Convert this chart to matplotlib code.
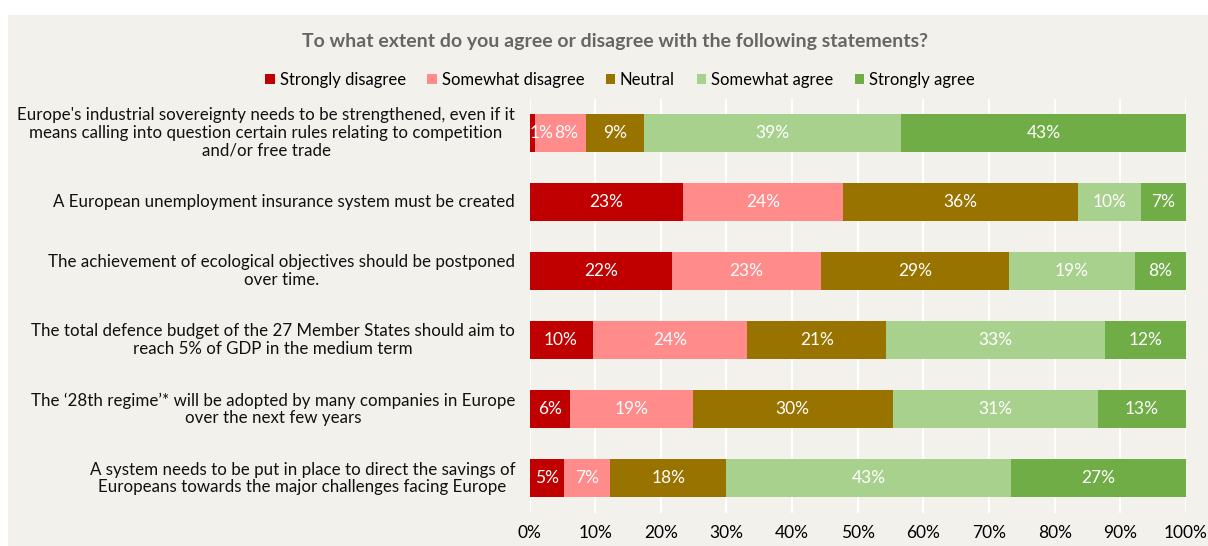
import matplotlib
matplotlib.use("Agg")
import matplotlib.pyplot as plt
import matplotlib.transforms as mtransforms
import numpy as np

plt.rcParams['font.family'] = ['Lato', 'DejaVu Sans']

statements = [
    "Europe's industrial sovereignty needs to be strengthened, even if it\nmeans calling into question certain rules relating to competition\nand/or free trade",
    "A European unemployment insurance system must be created",
    "The achievement of ecological objectives should be postponed\nover time.",
    "The total defence budget of the 27 Member States should aim to\nreach 5% of GDP in the medium term",
    "The \u201828th regime\u2019* will be adopted by many companies in Europe\nover the next few years",
    "A system needs to be put in place to direct the savings of\nEuropeans towards the major challenges facing Europe",
]

answers = ["Strongly disagree", "Somewhat disagree", "Neutral", "Somewhat agree", "Strongly agree"]

strongly_disagree = [0.9, 23.4, 21.7, 9.6, 6.2, 5.3]
somewhat_disagree = [7.7, 24.3, 22.7, 23.6, 18.7, 7.0]
neutral = [8.8, 35.8, 28.6, 21.1, 30.4, 17.7]
somewhat_agree = [39.2, 9.6, 19.2, 33.4, 31.3, 43.4]
strongly_agree = [43.4, 6.9, 7.8, 12.3, 13.4, 26.6]

colours = ["#C00000", "#FF8B8B", "#997300", "#A9D18E", "#70AD47"]
bg = "#F2F1EC"

series = [strongly_disagree, somewhat_disagree, neutral, somewhat_agree, strongly_agree]

W, H = 1208, 546
fig = plt.figure(figsize=(W / 100, H / 100), dpi=100)
fig.patch.set_facecolor("white")
# beige panel behind the chart
fig.patches.append(plt.Rectangle((8 / W, 0), 1, 1 - 15 / H, transform=fig.transFigure,
                                 facecolor=bg, edgecolor="none", zorder=-1))

ax = fig.add_axes([529.5 / W, 33 / H, (1186 - 529.5) / W, (513 - 98.5) / H])
ax.set_facecolor(bg)

y = np.arange(len(statements))
left = np.zeros(len(statements))
last_x = np.full(len(statements), -10.0)  # centre of previous label in each row
for name, vals, c in zip(answers, series, colours):
    vals = np.array(vals)
    ax.barh(y, vals, left=left, height=0.55, color=c, label=name, zorder=3)
    for i, (yi, l, v) in enumerate(zip(y, left, vals)):
        xc = l + v / 2
        if xc < 1.5:
            # tiny segment at the axis: keep the label inside the plot
            ax.text(0, yi, f"{v:.0f}%", ha="left", va="center",
                    color="white", fontsize=12.5, zorder=4)
            last_x[i] = 1.4
            continue
        xc = max(xc, last_x[i] + 4.2)  # push away from a crowded neighbour
        ax.text(xc, yi, f"{v:.0f}%", ha="center", va="center",
                color="white", fontsize=12.5, zorder=4)
        last_x[i] = xc
    left += vals

ax.set_xlim(0, 100)
ax.set_ylim(len(statements) - 0.5, -0.5)
ax.set_xticks(np.arange(0, 101, 10))
ax.set_xticklabels([f"{t}%" for t in range(0, 101, 10)], fontsize=12.5)
ax.set_yticks(y)
ax.set_yticklabels([])
ax.tick_params(axis="y", length=0)
ax.tick_params(axis="x", length=0, pad=9)
ax.grid(axis="x", color="white", linewidth=1.5, zorder=0)
for s in ax.spines.values():
    s.set_visible(False)

# statement labels: block right-aligned next to the bars, lines centred
trans = mtransforms.blended_transform_factory(fig.transFigure, ax.transData)
for yi, txt in zip(y, statements):
    ax.text(515 / W, yi, txt, transform=trans, ha="right", va="center",
            multialignment="center", fontsize=12.2, linespacing=1.13, color="#111111")

fig.text(615 / W, 1 - 41 / H, "To what extent do you agree or disagree with the following statements?",
         ha="center", va="center", fontsize=14, fontweight="bold", color="#666666")

handles, labels = ax.get_legend_handles_labels()
fig.legend(handles, labels, loc="center", bbox_to_anchor=(620 / W, 1 - 80 / H), ncol=5,
           frameon=False, fontsize=12, handlelength=0.55, handleheight=0.55,
           handletextpad=0.3, columnspacing=1.3)

fig.savefig("out.png", dpi=100, facecolor=fig.get_facecolor())
